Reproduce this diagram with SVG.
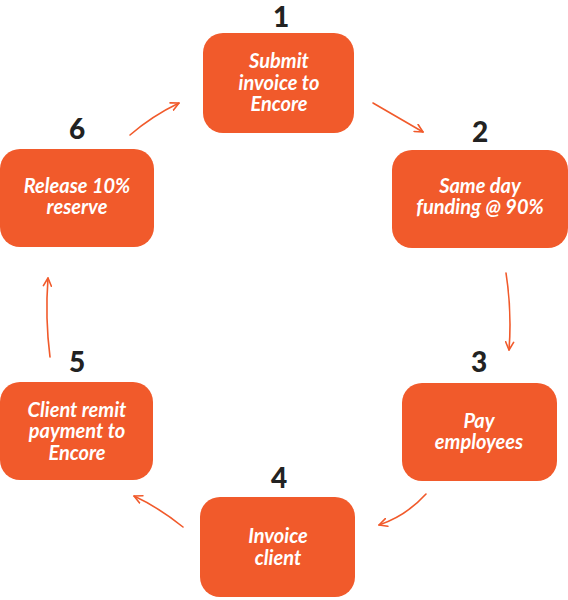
<svg xmlns="http://www.w3.org/2000/svg" width="568" height="600" viewBox="0 0 568 600">
<defs>
<style>
.box{fill:#F15A2B;}
.lbl{font-family:Lato,"Open Sans","Liberation Sans",sans-serif;font-style:italic;font-weight:bold;font-size:20px;fill:#fff;text-anchor:middle;}
.num{font-family:Lato,"Open Sans","Liberation Sans",sans-serif;font-weight:900;font-size:28px;fill:#222;text-anchor:middle;}
.arr{fill:none;stroke:#F15A2B;stroke-width:1.6;stroke-linecap:round;stroke-linejoin:round;}
</style>
<marker id="ah" viewBox="0 0 10 10" refX="9" refY="5" markerWidth="10" markerHeight="10" markerUnits="userSpaceOnUse" orient="auto">
<path d="M1,1 L9,5 L1,9" fill="none" stroke="#F15A2B" stroke-width="1.6" stroke-linecap="round" stroke-linejoin="round"/>
</marker>
</defs>
<rect width="568" height="600" fill="#fff"/>
<g id="connectors">
<path class="arr" marker-end="url(#ah)" d="M373,103 L423,132"/>
<path class="arr" marker-end="url(#ah)" d="M506,273 Q512,312 509,350"/>
<path class="arr" marker-end="url(#ah)" d="M426,494 Q406,516 379,525"/>
<path class="arr" marker-end="url(#ah)" d="M183,527 Q158,507 134,496"/>
<path class="arr" marker-end="url(#ah)" d="M50,357 Q45,318 48,278"/>
<path class="arr" marker-end="url(#ah)" d="M130,135 Q152,116 179,103"/>
</g>
<g id="node1">
<text class="num" x="281" y="27">1</text>
<rect class="box" x="203" y="33" width="151" height="100" rx="20"/>
<text class="lbl" x="279" y="68">Submit</text>
<text class="lbl" x="279" y="90">invoice to</text>
<text class="lbl" x="279" y="111">Encore</text>
</g>
<g id="node2">
<text class="num" x="480" y="142">2</text>
<rect class="box" x="392" y="150" width="176" height="98" rx="20"/>
<text class="lbl" x="480" y="193">Same day</text>
<text class="lbl" x="480" y="214">funding @ 90%</text>
</g>
<g id="node3">
<text class="num" x="479" y="372">3</text>
<rect class="box" x="402" y="383" width="155" height="98" rx="20"/>
<text class="lbl" x="479" y="428">Pay</text>
<text class="lbl" x="479" y="449">employees</text>
</g>
<g id="node4">
<text class="num" x="279" y="488">4</text>
<rect class="box" x="200" y="497" width="155" height="100" rx="20"/>
<text class="lbl" x="278" y="543">Invoice</text>
<text class="lbl" x="278" y="565">client</text>
</g>
<g id="node5">
<text class="num" x="77" y="372">5</text>
<rect class="box" x="0" y="382" width="153" height="98" rx="20"/>
<text class="lbl" x="77" y="417">Client remit</text>
<text class="lbl" x="77" y="438">payment to</text>
<text class="lbl" x="77" y="460">Encore</text>
</g>
<g id="node6">
<text class="num" x="77" y="139">6</text>
<rect class="box" x="0" y="149" width="154" height="98" rx="20"/>
<text class="lbl" x="77" y="193">Release 10%</text>
<text class="lbl" x="77" y="214">reserve</text>
</g>
</svg>
